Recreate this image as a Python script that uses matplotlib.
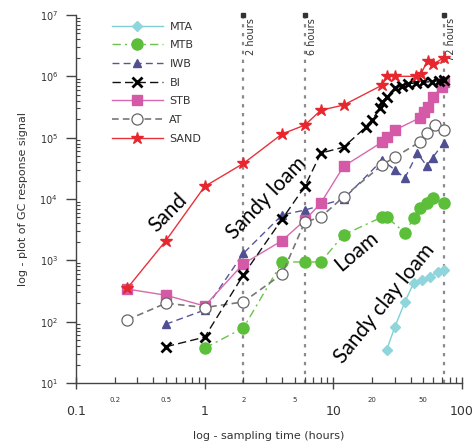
import matplotlib
matplotlib.use("Agg")
import matplotlib.pyplot as plt
from matplotlib.ticker import LogLocator, FixedLocator, FixedFormatter, NullFormatter

# ---- data ----
sand_t = [0.25, 0.5, 1, 2, 4, 6, 8, 12, 24, 26, 30, 44, 48, 54, 60, 72]
sand_y = [350, 2100, 16000, 38000, 115000, 160000, 280000, 340000, 720000,
          1.0e6, 1.0e6, 1.0e6, 1.1e6, 1.8e6, 1.6e6, 2.0e6]

bi_t = [0.5, 1, 2, 4, 6, 8, 12, 18, 20, 23, 24, 26, 30, 34, 38, 44, 50, 58, 66, 72]
bi_y = [39, 56, 580, 4700, 16000, 56000, 70000, 150000, 195000, 300000, 380000,
        460000, 640000, 700000, 760000, 780000, 800000, 820000, 850000, 870000]

stb_t = [0.25, 0.5, 1, 2, 4, 6, 8, 12, 24, 26, 30, 47, 51, 54, 59, 70, 72]
stb_y = [340, 270, 180, 880, 2100, 4500, 8600, 34000, 85000, 103000, 133000,
         210000, 263000, 316000, 460000, 670000, 800000]

iwb_t = [0.5, 1, 2, 4, 6, 12, 24, 30, 36, 45, 53, 59, 72]
iwb_y = [91, 155, 1300, 5500, 6600, 10000, 43000, 30000, 22000, 56000, 35000, 47000, 82000]

at_t = [0.25, 0.5, 1, 2, 4, 6, 8, 12, 24, 30, 47, 53, 62, 72]
at_y = [107, 200, 170, 210, 600, 4200, 5100, 10800, 36000, 48000, 85000, 120000, 160000, 133000]

mtb_t = [1, 2, 4, 6, 8, 12, 24, 26, 36, 42, 47, 53, 59, 72]
mtb_y = [37, 79, 940, 940, 940, 2600, 5100, 5100, 2800, 4900, 7100, 8600, 10400, 8600]

mta_t = [26, 30, 36, 42, 49, 56, 65, 72]
mta_y = [35, 81, 210, 425, 480, 540, 650, 700]

event_t = [2, 6, 72]
event_labels = ["2 hours", "6 hours", "72 hours"]

soil_labels = ["Sand", "Sandy loam", "Loam", "Sandy clay loam"]

x_major = [0.1, 1, 10, 100]
x_major_labels = ["0.1", "1", "10", "100"]
x_minor = [0.2, 0.3, 0.4, 0.5, 0.6, 0.7, 0.8, 0.9, 2, 3, 4, 5, 6, 7, 8, 9,
           20, 30, 40, 50, 60, 70, 80, 90]
x_minor_labels = {0.2: "0.2", 0.5: "0.5", 2: "2", 5: "5", 20: "20", 50: "50"}

# ---- figure ----
fig = plt.figure(figsize=(4.76, 4.48), dpi=100)
ax = fig.add_axes([76/476, 1-383/448, (462-76)/476, (383-15)/448])
ax.set_xscale("log")
ax.set_yscale("log")
ax.set_xlim(0.1, 100)
ax.set_ylim(10, 1e7)

for s in ["top", "right"]:
    ax.spines[s].set_visible(False)
for s in ["left", "bottom"]:
    ax.spines[s].set_color("#444444")
    ax.spines[s].set_linewidth(1.0)

# event lines
for t, lab in zip(event_t, event_labels):
    ax.plot([t, t], [10, 1e7], color="#8a8a8a", lw=1.6, ls=(0, (1.5, 2.5)), zorder=1)
    ax.plot([t], [1e7], marker="s", ms=2.5, color="#333333", clip_on=False, zorder=1)
    ax.text(t * 1.045, 9.0e6, lab, rotation=90, ha="left", va="top",
            fontsize=7, color="#333333")

ax.plot(mta_t, mta_y, color="#7fd0d6", lw=1.0, ls="-", marker="D", ms=5,
        mfc="#8fd6dc", mec="#8fd6dc", label="MTA", zorder=3)
ax.plot(mtb_t, mtb_y, color="#6cc24a", lw=1.0, ls=(0, (6, 3, 1.5, 3)), marker="o", ms=8,
        mfc="#5cbf3a", mec="#5cbf3a", label="MTB", zorder=3)
ax.plot(iwb_t, iwb_y, color="#55559a", lw=1.0, ls=(0, (5, 3)), marker="^", ms=6,
        mfc="#4f4f92", mec="#4f4f92", label="IWB", zorder=4)
ax.plot(bi_t, bi_y, color="#111111", lw=1.0, ls=(0, (6, 3)), marker="x", ms=7, mew=2,
        mfc="black", mec="black", label="BI", zorder=5)
ax.plot(stb_t, stb_y, color="#d66aae", lw=1.0, ls="-", marker="s", ms=6.5,
        mfc="#d45aa8", mec="#d45aa8", label="STB", zorder=4)
ax.plot(at_t, at_y, color="#777777", lw=1.2, ls=(0, (4, 2.5)), marker="o", ms=8,
        mfc="white", mec="#666666", mew=0.9, label="AT", zorder=4)
ax.plot(sand_t, sand_y, color="#e8323a", lw=1.0, ls="-", marker="*", ms=9,
        mfc="#e8262d", mec="#e8262d", label="SAND", zorder=6)

# ticks
ax.xaxis.set_major_locator(FixedLocator(x_major))
ax.xaxis.set_major_formatter(FixedFormatter(x_major_labels))
ax.xaxis.set_minor_locator(FixedLocator(x_minor))
ax.xaxis.set_minor_formatter(FixedFormatter([x_minor_labels.get(v, "") for v in x_minor]))
ax.tick_params(axis="x", which="major", direction="inout", length=8, width=1,
               labelsize=9, colors="#444444", labelcolor="#333333", pad=12)
ax.tick_params(axis="x", which="minor", direction="in", length=4, width=0.9,
               labelsize=5, colors="#444444", labelcolor="#333333", pad=10)

ax.yaxis.set_major_locator(LogLocator(base=10, numticks=10))
ax.yaxis.set_minor_locator(LogLocator(base=10, subs=range(2, 10), numticks=20))
ax.yaxis.set_minor_formatter(NullFormatter())
ax.tick_params(axis="y", which="major", direction="out", length=7, width=1,
               labelsize=7, colors="#444444", labelcolor="#333333", pad=6)
ax.tick_params(axis="y", which="minor", direction="in", length=3, width=0.8,
               colors="#444444")

ax.set_xlabel("log - sampling time (hours)", fontsize=8, color="#333333", labelpad=9)
ax.set_ylabel("log - plot of GC response signal", fontsize=8, color="#333333", labelpad=8)

leg = ax.legend(loc="upper left", bbox_to_anchor=(0.075, 1.0), frameon=False,
                fontsize=8, handlelength=4.6, handletextpad=0.6, labelspacing=0.78,
                borderaxespad=0.2)
for txt in leg.get_texts():
    txt.set_color("#333333")

# soil type annotations
font = "Lato"
ax.text(0.52, 6.0e3, soil_labels[0], rotation=45, fontsize=15, family=font,
        ha="center", va="center", rotation_mode="anchor")
ax.text(3.0, 1.05e4, soil_labels[1], rotation=46, fontsize=15, family=font,
        ha="center", va="center", rotation_mode="anchor")
ax.text(15.0, 1.4e3, soil_labels[2], rotation=40, fontsize=15, family=font,
        ha="center", va="center", rotation_mode="anchor")
ax.text(25.0, 2.0e2, soil_labels[3], rotation=51, fontsize=15, family=font,
        ha="center", va="center", rotation_mode="anchor")

fig.savefig("out.png", dpi=100)
